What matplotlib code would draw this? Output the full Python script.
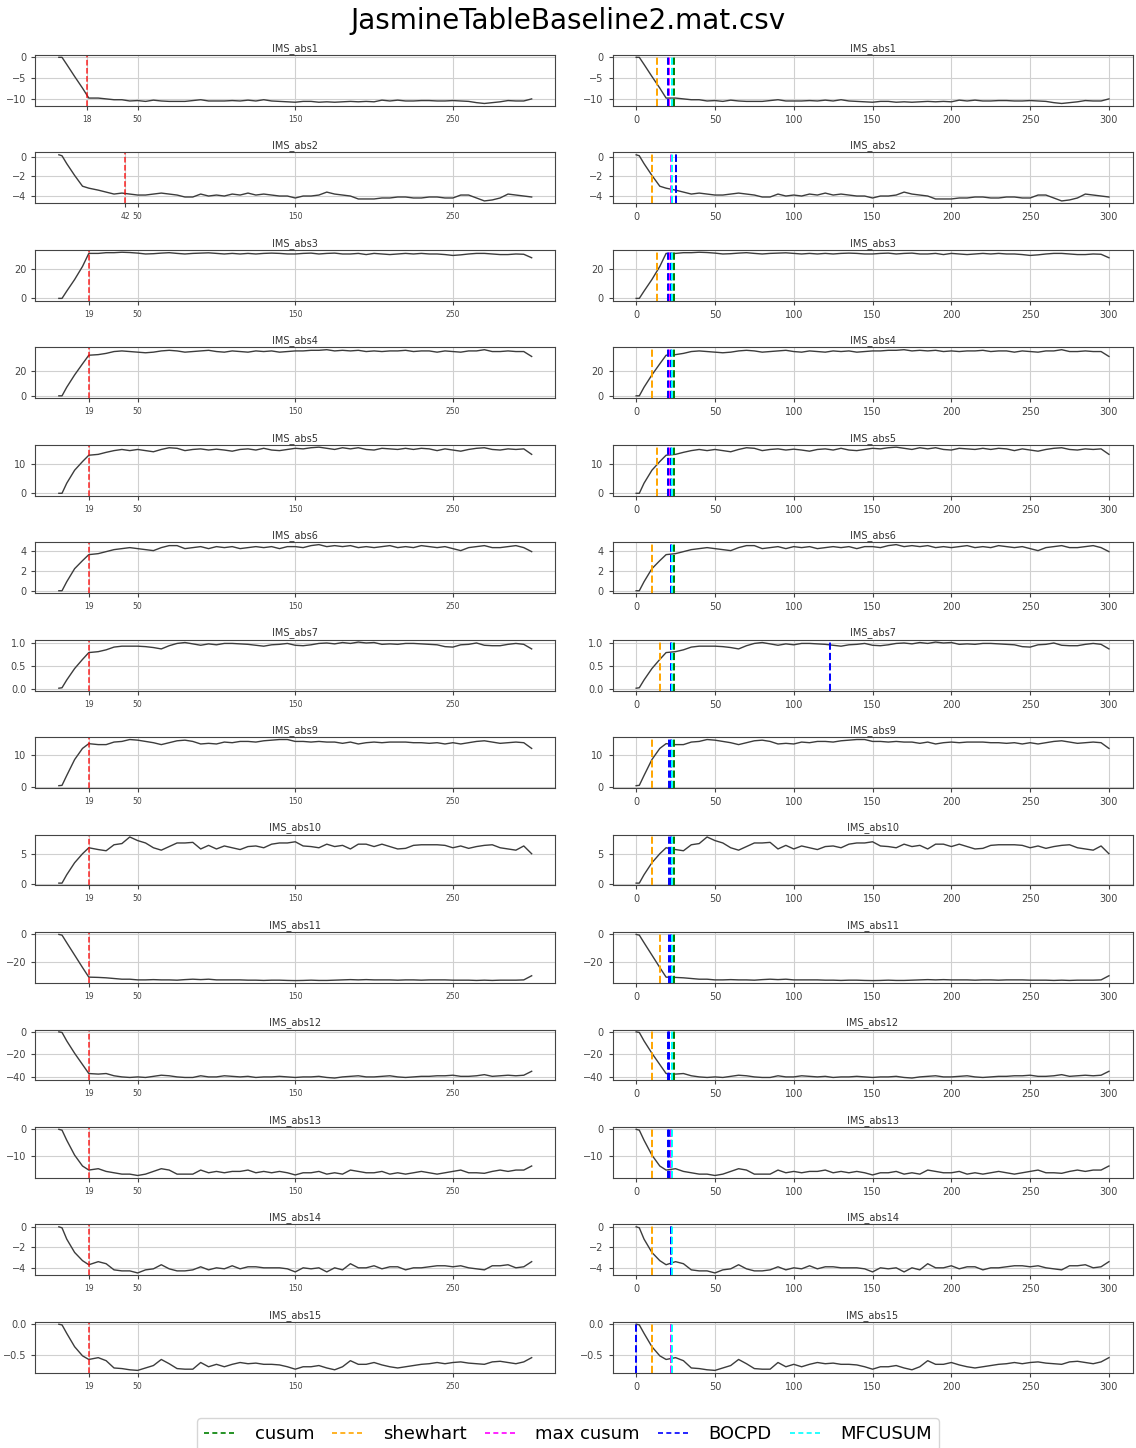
import numpy as np
import matplotlib.pyplot as plt
from matplotlib.lines import Line2D

# time index (sampled)
xs = [0, 2, 5, 10, 15, 19] + list(range(25, 301, 5))

names = ['IMS_abs1', 'IMS_abs2', 'IMS_abs3', 'IMS_abs4', 'IMS_abs5', 'IMS_abs6', 'IMS_abs7',
         'IMS_abs9', 'IMS_abs10', 'IMS_abs11', 'IMS_abs12', 'IMS_abs13', 'IMS_abs14', 'IMS_abs15']

abs1 = [0, 0, -1.7, -4.6, -7.4, -9.8,
        -9.8, -10.0, -10.2, -10.2, -10.5, -10.4, -10.6, -10.3,
        -10.5, -10.6, -10.6, -10.6, -10.4, -10.2, -10.5, -10.5,
        -10.5, -10.4, -10.5, -10.3, -10.5, -10.2, -10.5, -10.6,
        -10.7, -10.8, -10.6, -10.6, -10.8, -10.7, -10.8, -10.7,
        -10.6, -10.7, -10.6, -10.7, -10.3, -10.5, -10.3, -10.5,
        -10.5, -10.4, -10.4, -10.5, -10.5, -10.4, -10.5, -10.6,
        -10.9, -11.1, -10.9, -10.7, -10.4, -10.5, -10.5, -10.0]
abs2 = [0.2, 0.1, -0.7, -1.9, -3.0, -3.2,
        -3.4, -3.6, -3.8, -3.7, -3.8, -3.9, -3.9, -3.8,
        -3.7, -3.8, -3.9, -4.1, -4.1, -3.8, -4.0, -3.9,
        -4.0, -3.8, -3.9, -3.7, -3.9, -3.8, -3.9, -4.0,
        -4.0, -4.2, -4.0, -4.0, -3.9, -3.6, -3.8, -3.9,
        -4.0, -4.3, -4.3, -4.3, -4.2, -4.2, -4.1, -4.1,
        -4.2, -4.2, -4.1, -4.1, -4.2, -4.2, -3.9, -3.9,
        -4.2, -4.5, -4.4, -4.2, -3.8, -3.9, -4.0, -4.1]
abs3 = [0, 0, 5, 13, 22, 31,
        31, 31.5, 31.5, 31.8, 31.6, 31.2, 30.6, 30.8,
        31.2, 31.5, 31.0, 30.6, 31.0, 31.2, 31.4, 31.0,
        30.6, 31.0, 30.6, 31.0, 30.6, 31.0, 31.2, 31.0,
        30.6, 30.6, 31.0, 31.2, 30.6, 31.0, 31.2, 30.6,
        30.6, 31.0, 30.2, 31.0, 30.6, 30.2, 30.6, 31.0,
        30.6, 31.0, 30.6, 30.6, 30.2, 29.6, 30.0, 30.6,
        31.0, 31.0, 30.6, 30.2, 30.2, 30.6, 30.4, 28.0]
abs4 = [0, 0, 7, 17, 26, 33,
        33.5, 34.5, 36, 36.5, 36, 35.5, 35, 35.5,
        36.5, 37, 36.5, 35.5, 36, 36.5, 37, 36,
        35.5, 36.5, 36, 35.5, 36.5, 36, 36.5, 35.5,
        36, 36.5, 36.5, 37, 37, 37.5, 36.5, 37,
        36.5, 37, 36, 36.5, 36, 36.5, 36.5, 37,
        36, 36.5, 36.5, 35.5, 36.5, 36, 35.5, 36.5,
        36.5, 37.5, 36, 36, 36.5, 36, 36, 32]
abs5 = [0, 0, 3.5, 8, 11, 13.2,
        13.5, 14.2, 14.8, 15.2, 14.8, 15.2, 14.8, 14.4,
        15.2, 15.8, 15.6, 14.8, 15.2, 15.4, 15.0, 15.3,
        15.0, 14.6, 15.2, 15.4, 15.0, 15.6, 15.0, 14.8,
        15.2, 15.6, 15.4, 15.8, 16.0, 15.6, 15.2, 15.8,
        15.4, 15.8, 15.2, 15.0, 15.6, 15.4, 15.2, 15.6,
        15.2, 15.6, 15.4, 14.8, 15.4, 15.0, 14.6, 15.2,
        15.6, 15.8, 15.2, 15.0, 15.4, 15.2, 15.4, 13.5]
abs6 = [0, 0, 0.9, 2.2, 3.0, 3.6,
        3.7, 3.9, 4.1, 4.2, 4.3, 4.2, 4.1, 4.0,
        4.3, 4.5, 4.5, 4.2, 4.3, 4.4, 4.2, 4.4,
        4.3, 4.4, 4.2, 4.3, 4.4, 4.3, 4.4, 4.2,
        4.4, 4.4, 4.3, 4.5, 4.6, 4.4, 4.5, 4.4,
        4.5, 4.3, 4.4, 4.3, 4.4, 4.5, 4.3, 4.4,
        4.3, 4.5, 4.4, 4.3, 4.4, 4.2, 4.0, 4.3,
        4.4, 4.5, 4.3, 4.3, 4.4, 4.5, 4.3, 3.9]
abs7 = [0.02, 0.03, 0.2, 0.45, 0.65, 0.8,
        0.82, 0.86, 0.92, 0.94, 0.94, 0.94, 0.93, 0.91,
        0.88, 0.95, 1.0, 1.02, 0.99, 0.96, 0.99, 0.97,
        1.0, 1.0, 0.99, 0.98, 0.96, 0.94, 0.97, 0.98,
        1.0, 0.96, 0.95, 0.97, 1.0, 1.01, 0.99, 1.02,
        1.0, 1.03, 1.01, 1.02, 0.98, 0.99, 0.98, 1.0,
        1.0, 0.99, 0.98, 0.97, 0.93, 0.92, 0.97, 0.98,
        1.01, 0.96, 0.95, 0.95, 0.98, 1.0, 0.98, 0.88]
abs9 = [0.3, 0.4, 3.5, 8.5, 12, 13.5,
        13.2, 13.2, 14, 14.2, 14.8, 14.6, 14.2, 13.8,
        13.2, 13.8, 14.4, 14.6, 14.2, 13.4, 13.6, 13.4,
        14.0, 13.8, 14.2, 14.2, 14.0, 14.4, 14.6, 14.8,
        14.8, 14.2, 14.2, 14.0, 14.2, 14.0, 14.0, 13.6,
        14.0, 13.4, 13.8, 14.0, 13.8, 14.0, 14.0, 14.0,
        13.8, 13.8, 13.6, 13.8, 13.4, 13.8, 13.4, 13.8,
        14.2, 14.4, 14.0, 13.6, 13.8, 14.0, 13.8, 12.0]
abs10 = [0.1, 0.1, 1.5, 3.5, 5.0, 6.0,
         5.7, 5.5, 6.5, 6.7, 7.8, 7.2, 6.8, 6.0,
         5.6, 6.2, 6.8, 6.8, 6.9, 5.8, 6.4, 5.8,
         6.3, 6.0, 5.7, 6.2, 6.3, 6.0, 6.6, 6.8,
         6.8, 7.0, 6.3, 6.2, 6.0, 6.6, 6.2, 6.4,
         5.8, 6.6, 6.6, 6.2, 6.6, 6.2, 5.8, 5.9,
         6.4, 6.5, 6.5, 6.5, 6.4, 6.0, 6.3, 5.9,
         6.2, 6.4, 6.5, 6.0, 5.8, 5.6, 6.3, 5.0]
abs11 = [0, -0.5, -6, -15, -24, -31,
         -31.2, -31.5, -32, -32.5, -32.5, -33, -33, -32.8,
         -33, -33, -33.2, -32.8, -32.5, -32.8, -32.5, -33,
         -33, -33, -33, -33.2, -33.2, -33.4, -33.2, -33.2,
         -33.4, -33.5, -33.4, -33.2, -33.4, -33.4, -33.2, -33,
         -32.8, -33, -32.8, -33, -33, -33, -33.2, -33,
         -33, -33.2, -33, -33, -33, -33.2, -33.2, -33.2,
         -33.4, -33.2, -33.4, -33.2, -33.2, -33.2, -33, -30]
abs12 = [0, -0.5, -8, -19, -29, -37,
         -37.5, -37, -39, -40, -40.5, -40, -40.5, -39.5,
         -38.5, -39, -40, -40.5, -40.5, -39, -40, -40,
         -39, -39.5, -40, -39.5, -40.5, -40, -40, -39.5,
         -40, -40.5, -40, -40, -39.5, -40.5, -41, -40,
         -39.5, -39, -40, -40, -39.5, -39, -40, -40.5,
         -40, -39.5, -39.5, -39, -39, -38.5, -39.5, -39.5,
         -39, -38, -39.5, -39, -38.5, -39, -38.5, -35]
abs13 = [0, -0.3, -4, -9.5, -13.5, -15,
         -14.5, -15.5, -16, -16.5, -16.5, -17, -16.5, -15.5,
         -14.5, -15, -16.5, -16.5, -16.5, -15, -16, -15.5,
         -16, -15.5, -15.5, -15, -16, -15.5, -16, -15.5,
         -16, -16.8, -16, -16, -15.5, -16.5, -16, -16.5,
         -15, -15.5, -16, -16, -15.5, -16.5, -16, -16.5,
         -16, -15.5, -16, -16.5, -16, -15.5, -15, -16,
         -16, -16.2, -15.5, -15, -15.5, -15, -15, -13.5]
abs14 = [0, -0.1, -1.2, -2.5, -3.3, -3.7,
         -3.4, -3.6, -4.2, -4.3, -4.3, -4.5, -4.2, -4.1,
         -3.7, -4.1, -4.3, -4.3, -4.2, -3.9, -4.2, -4.0,
         -4.1, -3.8, -4.1, -3.9, -3.9, -4.0, -4.0, -4.0,
         -4.1, -4.4, -4.0, -4.1, -4.0, -4.4, -4.0, -4.2,
         -3.6, -4.0, -4.0, -3.8, -4.1, -3.9, -3.9, -4.2,
         -4.0, -4.0, -3.9, -3.8, -3.8, -3.9, -3.8, -4.0,
         -4.1, -4.2, -3.8, -3.8, -3.7, -4.0, -3.9, -3.4]
abs15 = [0, -0.01, -0.15, -0.37, -0.52, -0.58,
         -0.55, -0.6, -0.72, -0.73, -0.75, -0.76, -0.72, -0.68,
         -0.58, -0.65, -0.73, -0.74, -0.74, -0.63, -0.7, -0.66,
         -0.7, -0.66, -0.63, -0.65, -0.64, -0.66, -0.66, -0.67,
         -0.7, -0.74, -0.7, -0.7, -0.68, -0.72, -0.75, -0.7,
         -0.6, -0.66, -0.66, -0.63, -0.67, -0.7, -0.72, -0.7,
         -0.68, -0.66, -0.65, -0.63, -0.65, -0.63, -0.62, -0.64,
         -0.65, -0.66, -0.62, -0.61, -0.63, -0.65, -0.62, -0.55]

series = [abs1, abs2, abs3, abs4, abs5, abs6, abs7, abs9, abs10, abs11, abs12, abs13, abs14, abs15]

yticks = [[-10, -5, 0], [-4, -2, 0], [0, 20], [0, 20], [0, 10], [0, 2, 4], [0.0, 0.5, 1.0],
          [0, 10], [0, 5], [-20, 0], [-40, -20, 0], [-10, 0], [-4, -2, 0], [-0.5, 0.0]]

# true change point (left column)
true_cp = [18, 42, 19, 19, 19, 19, 19, 19, 19, 19, 19, 19, 19, 19]

# detected change points (right column)
cp_cusum = [[24], [25], [24], [24], [24], [24], [24], [24], [24], [24], [24], [22], [22], [22]]
cp_shewhart = [[13], [10], [13], [10], [13], [10], [15], [10], [10], [15], [10], [10], [10], [10]]
cp_maxcusum = [[21], [22], [21], [21], [21], [22], [22], [22], [22], [22], [21], [22], [22], [22]]
cp_bocpd = [[20], [25], [20, 22], [20, 22], [20, 22], [22], [22, 123], [21, 22], [21, 22], [21, 22], [20, 21], [20, 21], [22], [0]]
cp_mfcusum = [[23], [23], [23], [23], [23], [23], [23], [23], [23], [23], [23], [23], [23], [23]]

methods = ['cusum', 'shewhart', 'max cusum', 'BOCPD', 'MFCUSUM']
colors = ['green', 'orange', 'magenta', 'blue', 'cyan']
cps = [cp_cusum, cp_shewhart, cp_maxcusum, cp_bocpd, cp_mfcusum]

fig, axes = plt.subplots(14, 2, figsize=(11.36, 14.48), dpi=100)
fig.subplots_adjust(left=0.031, right=0.997, top=0.962, bottom=0.052, wspace=0.11, hspace=0.92)
fig.suptitle('JasmineTableBaseline2.mat.csv', fontsize=20, y=0.995)

for i in range(14):
    # left: series + true change point
    ax = axes[i, 0]
    ax.plot(xs, series[i], color='#3c3c3c', lw=1)
    ax.axvline(true_cp[i], color='red', ls='--', lw=1.1, alpha=0.85)
    ax.set_xlim(-15, 315)
    ax.set_xticks([true_cp[i], 50, 150, 250])
    ax.set_yticks(yticks[i])
    ax.tick_params(axis='x', labelsize=5.5, length=3, colors='#444444')
    ax.tick_params(axis='y', labelsize=7, length=3, colors='#444444')
    ax.set_title(names[i], fontsize=7, pad=3, color='#333333')
    ax.grid(True, color='#d0d0d0', lw=0.8)

    # right: series + detections
    ax = axes[i, 1]
    ax.plot(xs, series[i], color='#3c3c3c', lw=1)
    for m in range(5):
        for c in cps[m][i]:
            ax.axvline(c, color=colors[m], ls='--', lw=1.4)
    ax.set_xlim(-15, 315)
    ax.set_xticks([0, 50, 100, 150, 200, 250, 300])
    ax.set_yticks(yticks[i])
    ax.tick_params(labelsize=7, length=3, colors='#444444')
    ax.set_title(names[i], fontsize=7, pad=3, color='#333333')
    ax.grid(True, color='#d0d0d0', lw=0.8)

for ax in axes.flat:
    for s in ax.spines.values():
        s.set_color('#444444')

handles = [Line2D([0], [0], color=c, ls=(0, (3, 2)), lw=1.2) for c in colors]
fig.legend(handles, methods, loc='lower center', ncol=5, fontsize=13,
           bbox_to_anchor=(0.5, -0.008), handlelength=1.8, columnspacing=1.0,
           handletextpad=1.0)

fig.savefig('out.png', dpi=100)
